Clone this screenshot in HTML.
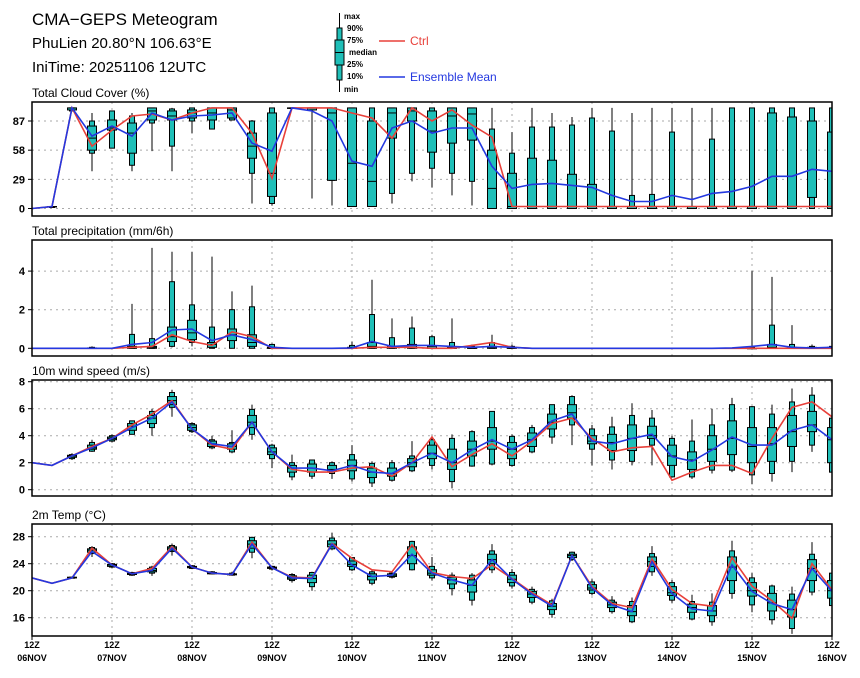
<!DOCTYPE html>
<html><head><meta charset="utf-8"><style>
body{margin:0;background:#fff;}
svg{display:block;font-family:"Liberation Sans",sans-serif;}
</style></head><body>
<svg id="chart" width="860" height="678" viewBox="0 0 860 678" xmlns="http://www.w3.org/2000/svg">
<text x="32" y="25" font-size="17">CMA−GEPS Meteogram</text>
<text x="32" y="48" font-size="15">PhuLien 20.80°N 106.63°E</text>
<text x="32" y="72" font-size="15">IniTime: 20251106 12UTC</text>
<g>
<line x1="339.5" y1="13" x2="339.5" y2="92" stroke="#000" stroke-width="1"/>
<rect x="337" y="28" width="5" height="52" fill="#1fbfb8" stroke="#000" stroke-width="1"/>
<rect x="335" y="40" width="9" height="25" fill="#1fbfb8" stroke="#000" stroke-width="1"/>
<line x1="335" y1="52.5" x2="344" y2="52.5" stroke="#000" stroke-width="1"/>
<g font-size="8" font-weight="bold">
<text x="344" y="19">max</text><text x="347" y="31">90%</text><text x="347" y="43">75%</text>
<text x="349" y="55">median</text><text x="347" y="67">25%</text><text x="347" y="79">10%</text><text x="344" y="92">min</text>
</g>
<line x1="379" y1="41" x2="405" y2="41" stroke="#e8403a" stroke-width="1.5"/>
<text x="410" y="45" font-size="12" fill="#e8403a">Ctrl</text>
<line x1="379" y1="77" x2="405" y2="77" stroke="#2438e0" stroke-width="1.5"/>
<text x="410" y="81" font-size="12" fill="#2438e0">Ensemble Mean</text>
</g>
</svg>
<script>
const N=null;
// ---- Cloud cover ----
const cloudCtrl=[0,2,100,62,78,92,94,88,95,100,100,75,30,100,100,100,95,90,70,100,87,98,83,71,2,2,2,2,2,2,2,2,2,2,2,2,2,2,2,2,2];
const cloudMean=[0,2,100,72,82,72,95,88,92,93,95,65,57,100,97,87,47,42,80,87,75,80,80,42,20,24,25,23,21,13,7,7,13,9,15,17,22,32,32,39,37];
const cloudMin=[N,1,97,37,60,37,57,37,75,79,88,5,3,100,10,3,2,2,5,27,21,13,3,0,0,0,0,0,0,0,0,0,0,0,0,0,0,0,0,0,0];
const cloudP10=[N,1,97,55,60,43,85,62,87,79,88,35,5,100,98,28,2,2,15,35,40,35,27,0,0,0,0,0,0,0,0,0,0,0,0,0,0,0,0,0,0];
const cloudP25=[N,2,98,58,78,55,88,88,90,88,90,50,12,100,98,28,2,2,70,87,56,65,68,0,0,0,0,0,0,0,0,0,0,0,0,0,0,0,0,11,0];
const cloudMed=[N,2,100,70,80,75,97,92,95,95,98,62,35,100,100,95,45,27,95,97,77,92,94,20,2,2,2,2,2,2,2,2,2,2,2,2,2,2,2,2,2];
const cloudP75=[N,2,100,82,88,85,100,97,98,100,100,75,95,100,100,100,100,87,100,100,97,100,100,58,35,50,48,34,24,2,2,2,2,2,2,2,2,95,91,87,76];
const cloudP90=[N,2,100,87,97,92,100,99,100,100,100,87,100,100,100,100,100,100,100,100,100,100,100,79,55,81,81,83,90,77,13,14,76,2,69,100,100,100,100,100,100];
const cloudMax=[N,3,100,95,97,95,100,100,100,100,100,88,100,100,100,100,100,100,100,100,100,100,100,100,76,100,95,91,100,100,95,100,100,100,100,100,100,100,100,100,100];
const cloudTicks=[0,29,58,87];
// ---- Precipitation ----
const prCtrl=[0,0,0,0,0,0.05,0.1,0.7,0.35,0.15,0.85,0.6,0,0,0,0,0,0.05,0.05,0.05,0,0,0.15,0.3,0.05,0,0,0,0,0,0,0,0,0,0,0,0,0,0,0,0];
const prMean=[0,0,0,0,0,0.2,0.3,0.95,1.0,0.4,0.7,0.45,0.05,0,0,0,0.02,0.35,0.1,0.15,0.15,0.1,0.05,0.1,0.05,0,0,0,0,0,0,0,0,0,0,0.02,0.1,0.2,0.05,0.02,0.05];
const prMin=[N,N,N,0,N,0,0,0.05,0.1,0,0,0,0,N,N,N,0,0,0,0,0,0,0,0,0,N,N,N,N,N,N,N,N,N,N,N,0,0,0,0,0];
const prP10=[N,N,N,0,N,0,0,0.1,0.3,0,0,0,0,N,N,N,0,0,0,0,0,0,0,0,0,N,N,N,N,N,N,N,N,N,N,N,0,0,0,0,0];
const prP25=[N,N,N,0,N,0,0,0.35,0.45,0.05,0.4,0.1,0,N,N,N,0,0,0,0,0,0,0,0,0,N,N,N,N,N,N,N,N,N,N,N,0,0,0,0,0];
const prMed=[N,N,N,0,N,0.05,0.05,0.6,0.8,0.2,0.7,0.3,0,N,N,N,0,0.1,0.05,0.05,0,0,0,0.05,0,N,N,N,N,N,N,N,N,N,N,N,0,0.05,0,0,0];
const prP75=[N,N,N,0.02,N,0.1,0.1,1.1,1.45,0.3,1.0,0.7,0.05,N,N,N,0.05,0.3,0.1,0.2,0.1,0.05,0.05,0.1,0.05,N,N,N,N,N,N,N,N,N,N,N,0,0.2,0.05,0.05,0.05];
const prP90=[N,N,N,0.05,N,0.72,0.5,3.45,2.25,1.1,2.0,2.15,0.2,N,N,N,0.15,1.75,0.55,1.05,0.6,0.3,0.1,0.3,0.1,N,N,N,N,N,N,N,N,N,N,N,0.05,1.2,0.2,0.1,0.1];
const prMax=[N,N,N,0.1,N,2.3,5.2,5.0,5.0,4.75,2.95,3.25,0.25,N,N,N,0.35,3.55,1.55,1.65,0.7,1.55,0.2,0.7,0.2,N,N,N,N,N,N,N,N,N,N,N,4.0,3.7,1.2,0.2,0.2];
const prTicks=[0,2,4];
// ---- Wind ----
const wdCtrl=[2.0,1.8,2.5,3.2,3.8,4.8,5.6,6.6,4.5,3.3,3.0,5.0,2.8,1.5,1.3,1.3,1.6,1.7,1.0,2.0,3.9,1.7,2.6,3.4,2.5,3.6,4.9,5.3,3.8,2.8,3.1,3.2,0.7,1.3,1.8,1.8,1.2,3.8,6.1,6.5,5.4];
const wdMean=[2.0,1.8,2.5,3.1,3.8,4.6,5.3,6.5,4.5,3.4,3.2,5.0,2.8,1.6,1.6,1.4,1.8,1.3,1.2,2.0,2.7,2.0,2.95,3.7,3.0,3.7,5.1,5.6,3.6,3.4,3.8,4.1,2.45,2.1,2.95,3.9,3.3,3.3,4.4,4.8,3.7];
const wdMin=[N,N,2.2,2.8,3.5,4.1,4.0,5.4,4.2,3.0,2.7,3.7,1.6,0.7,0.8,0.8,0.6,0.2,0.6,1.3,1.5,0.1,1.7,1.8,1.7,2.7,3.4,3.3,1.8,1.5,1.8,1.8,0.9,0.8,1.2,1.3,0.4,0.6,1.3,2.8,1.3];
const wdP10=[N,N,2.3,2.85,3.6,4.1,4.6,6.1,4.3,3.1,2.8,4.1,2.3,0.95,1.0,1.2,0.8,0.5,0.7,1.4,1.8,0.6,1.75,1.9,1.8,2.8,3.9,4.8,3.0,2.2,2.1,3.3,0.95,0.95,1.45,1.45,1.1,1.2,2.1,3.3,1.3];
const wdP25=[N,N,2.4,3.0,3.7,4.4,4.9,6.3,4.4,3.2,3.0,4.6,2.6,1.3,1.3,1.4,1.4,0.9,1.0,1.7,2.3,1.5,2.5,3.0,2.3,3.2,4.5,5.3,3.4,2.9,2.9,3.8,1.8,1.5,2.1,2.6,2.0,2.1,3.2,4.3,2.0];
const wdMed=[N,N,2.5,3.1,3.8,4.7,5.3,6.6,4.6,3.4,3.2,5.0,2.8,1.6,1.6,1.5,1.8,1.3,1.2,2.0,2.7,2.0,3.0,3.6,3.0,3.7,5.0,5.7,3.6,3.5,3.8,4.0,2.5,2.2,3.0,3.8,3.2,3.4,4.3,4.8,3.7];
const wdP75=[N,N,2.55,3.3,3.9,4.9,5.5,6.9,4.8,3.6,3.4,5.5,3.1,1.8,1.9,1.8,2.2,1.6,1.6,2.3,3.3,3.0,3.6,4.6,3.5,4.2,5.6,6.3,4.0,4.1,4.8,4.7,3.3,2.8,4.0,5.1,4.6,4.6,5.5,5.8,4.6];
const wdP90=[N,N,2.6,3.5,4.0,5.1,5.8,7.2,4.9,3.7,3.5,5.95,3.3,2.0,2.2,2.0,2.6,1.95,2.0,2.5,3.7,3.8,4.3,5.8,3.95,4.6,6.3,6.9,4.5,4.65,5.5,5.3,3.8,3.6,4.8,6.3,6.15,5.6,6.5,7.0,5.3];
const wdMax=[N,N,2.7,3.7,4.1,5.1,6.0,7.4,5.0,4.0,4.4,6.3,3.4,2.6,2.2,2.1,3.3,2.1,2.2,3.6,4.0,4.1,4.4,5.8,4.1,4.8,6.3,7.0,4.8,5.4,6.4,5.9,4.0,5.2,6.0,6.8,6.2,6.3,7.5,7.6,5.8];
const wdTicks=[0,2,4,6,8];
// ---- Temperature ----
const tCtrl=[21.9,21.1,21.9,26.3,23.8,22.5,23.3,26.5,23.5,22.6,22.4,27.2,23.4,22.0,21.9,27.0,24.8,23.1,22.8,26.8,22.7,22.1,21.8,23.8,21.8,19.7,17.9,25.2,20.6,18.1,17.5,24.7,20.2,18.1,17.7,24.9,20.7,18.5,15.9,24.0,20.1];
const tMean=[21.9,21.1,21.9,25.8,23.8,22.5,23.0,26.3,23.5,22.6,22.4,26.9,23.4,21.9,21.8,26.9,23.8,22.1,22.3,25.4,22.6,21.6,20.8,24.6,21.7,19.5,17.7,25.2,20.4,17.9,16.9,24.3,19.6,17.3,17.0,23.8,19.9,18.1,17.2,23.3,19.9];
const tMin=[N,N,21.8,25.0,23.3,22.2,22.2,25.2,23.2,22.4,22.2,24.8,23.0,21.2,20.0,26.0,22.9,20.8,21.8,23.0,21.5,19.3,17.8,22.6,20.3,18.0,16.0,24.4,19.3,16.6,15.2,22.2,18.2,15.6,14.8,18.8,16.8,15.0,13.6,19.3,17.5];
const tP10=[N,N,21.85,25.5,23.5,22.3,22.6,25.8,23.3,22.5,22.3,25.7,23.2,21.5,20.6,26.2,23.1,21.1,22.0,23.1,21.9,20.3,18.6,23.1,20.7,18.3,16.5,24.6,19.6,16.9,15.4,22.8,18.6,15.8,15.4,19.6,17.9,15.7,14.4,19.8,17.8];
const tP25=[N,N,21.9,25.7,23.6,22.4,22.8,26.0,23.4,22.5,22.35,26.3,23.3,21.7,21.2,26.5,23.6,21.6,22.1,24.0,22.3,21.0,19.8,24.0,21.2,19.0,17.2,24.9,20.1,17.5,16.3,23.6,19.3,16.8,16.3,21.5,19.2,17.0,16.1,21.5,18.9];
const tMed=[N,N,21.9,26.0,23.8,22.5,23.0,26.3,23.5,22.6,22.4,26.9,23.4,21.9,21.8,26.9,23.9,22.1,22.3,25.2,22.6,21.6,20.8,24.6,21.7,19.5,17.7,25.2,20.4,17.9,16.9,24.3,19.7,17.5,17.0,23.5,20.0,18.2,17.2,23.3,20.0];
const tP75=[N,N,22.0,26.2,23.9,22.6,23.3,26.5,23.6,22.7,22.5,27.4,23.5,22.2,22.3,27.4,24.4,22.5,22.5,26.5,23.1,22.0,21.6,25.4,22.3,19.9,18.1,25.4,20.9,18.3,17.8,25.0,20.6,18.0,17.8,25.0,21.2,19.6,18.6,24.6,21.5];
const tP90=[N,N,22.0,26.4,24.0,22.7,23.5,26.7,23.7,22.8,22.6,27.9,23.6,22.4,22.7,27.8,24.9,22.8,22.6,27.3,23.6,22.3,22.3,25.9,22.7,20.2,18.5,25.7,21.3,18.6,18.4,25.5,21.2,18.4,18.3,25.9,21.9,20.7,19.5,25.4,22.6];
const tMax=[N,N,22.1,26.6,24.1,22.8,23.7,27.0,23.8,22.9,22.8,28.0,23.7,22.6,22.8,28.6,25.0,23.0,22.8,27.4,25.0,22.7,22.6,26.9,23.2,20.6,18.8,25.8,21.7,19.2,19.0,26.6,21.6,19.4,19.6,27.4,22.6,20.9,20.6,27.2,22.8];
const tTicks=[16,20,24,28];
// ---- X axis ----
const dayLabels=["06NOV","07NOV","08NOV","09NOV","10NOV","11NOV","12NOV","13NOV","14NOV","15NOV","16NOV"];

const svg=document.getElementById('chart');
const NS='http://www.w3.org/2000/svg';
const X0=32,X1=832,NSTEP=40;
function xOf(i){return X0+(X1-X0)*i/NSTEP;}
function mk(tag,attrs,parent){const e=document.createElementNS(NS,tag);for(const k in attrs)e.setAttribute(k,attrs[k]);(parent||svg).appendChild(e);return e;}

function panel(cfg){
  const {name,title,top,bottom,vmin,vmax,ticks,ctrl,mean,mn,p10,p25,med,p75,p90,mx}=cfg;
  const yOf=v=>bottom-(v-vmin)/(vmax-vmin)*(bottom-top);
  const g=mk('g',{});
  
  
  const t=mk('text',{x:32,y:top-5,'font-size':12},g);
  t.textContent=title;
  
  
  const cp=mk('clipPath',{id:'clip-'+name},g);
  mk('rect',{x:X0,y:top,width:X1-X0,height:bottom-top},cp);
  // grid
  for(let d=1;d<dayLabels.length-1;d++){
    const gx=xOf(d*4);
    const l=mk('line',{x1:gx,y1:top,x2:gx,y2:bottom,stroke:'#aaa','stroke-width':1,'stroke-dasharray':'2,4'},g);
    
    
  }
  ticks.forEach(v=>{
    const y=yOf(v);
    const l=mk('line',{x1:X0,y1:y,x2:X1,y2:y,stroke:'#aaa','stroke-width':1,'stroke-dasharray':'2,4'},g);
    
    
    mk('line',{x1:X0-4,y1:y,x2:X0,y2:y,stroke:'#000','stroke-width':1},g);
    const tl=mk('text',{x:X0-7,y:y+4,'font-size':11,'font-weight':'bold','text-anchor':'end'},g);
    tl.textContent=v;
    
    
  });
  const bg=mk('g',{'clip-path':'url(#clip-'+name+')'},g);
  for(let i=0;i<=NSTEP;i++){
    if(mx[i]===null||mx[i]===undefined)continue;
    const x=xOf(i);
    const bx=mk('g',{},bg);
    
    
    mk('line',{x1:x,y1:yOf(mn[i]),x2:x,y2:yOf(mx[i]),stroke:'#000','stroke-width':1},bx);
    mk('rect',{x:x-2.5,y:yOf(p90[i]),width:5,height:Math.max(0.5,yOf(p10[i])-yOf(p90[i])),fill:'#1fbfb8',stroke:'#000','stroke-width':1},bx);
    mk('rect',{x:x-4.5,y:yOf(p75[i]),width:9,height:Math.max(0.5,yOf(p25[i])-yOf(p75[i])),fill:'#1fbfb8',stroke:'#000','stroke-width':1},bx);
    mk('line',{x1:x-4.5,y1:yOf(med[i]),x2:x+4.5,y2:yOf(med[i]),stroke:'#000','stroke-width':1},bx);
  }
  const pts=a=>a.map((v,i)=>xOf(i).toFixed(1)+','+yOf(v).toFixed(1)).join(' ');
  const lc=mk('polyline',{points:pts(ctrl),fill:'none',stroke:'#e8403a','stroke-width':1.6},bg);
  
  
  const lm=mk('polyline',{points:pts(mean),fill:'none',stroke:'#2438e0','stroke-width':1.6},bg);
  
  
  const fr=mk('rect',{x:X0,y:top,width:X1-X0,height:bottom-top,fill:'none',stroke:'#000','stroke-width':1.5},g);
  
  
}
panel({name:'cloud-cover',title:'Total Cloud Cover (%)',top:102,bottom:216,vmin:-7.45,vmax:105.9,ticks:cloudTicks,ctrl:cloudCtrl,mean:cloudMean,mn:cloudMin,p10:cloudP10,p25:cloudP25,med:cloudMed,p75:cloudP75,p90:cloudP90,mx:cloudMax});
panel({name:'precipitation',title:'Total precipitation (mm/6h)',top:240,bottom:356,vmin:-0.399,vmax:5.611,ticks:prTicks,ctrl:prCtrl,mean:prMean,mn:prMin,p10:prP10,p25:prP25,med:prMed,p75:prP75,p90:prP90,mx:prMax});
panel({name:'wind-speed',title:'10m wind speed (m/s)',top:380,bottom:496,vmin:-0.467,vmax:8.126,ticks:wdTicks,ctrl:wdCtrl,mean:wdMean,mn:wdMin,p10:wdP10,p25:wdP25,med:wdMed,p75:wdP75,p90:wdP90,mx:wdMax});
panel({name:'temperature',title:'2m Temp (°C)',top:524,bottom:636,vmin:13.29,vmax:29.88,ticks:tTicks,ctrl:tCtrl,mean:tMean,mn:tMin,p10:tP10,p25:tP25,med:tMed,p75:tP75,p90:tP90,mx:tMax});
// x labels
dayLabels.forEach((d,k)=>{
  const x=xOf(k*4);
  mk('line',{x1:x,y1:636,x2:x,y2:640,stroke:'#000','stroke-width':1});
  const a=mk('text',{x:x,y:648,'font-size':9,'font-weight':'bold','text-anchor':'middle'});
  a.textContent='12Z';
  
  
  const b=mk('text',{x:x,y:661,'font-size':9,'font-weight':'bold','text-anchor':'middle'});
  b.textContent=d;
  
  
});
</script>
</body></html>
